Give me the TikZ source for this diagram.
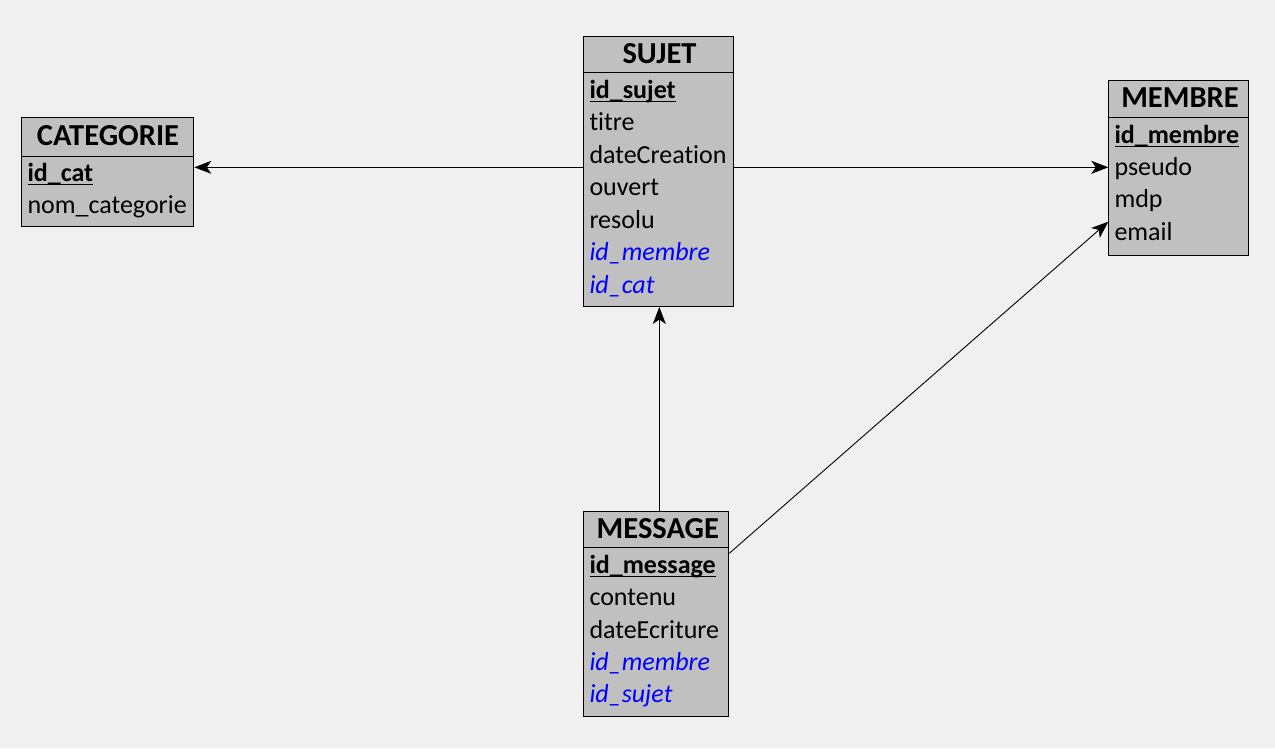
\documentclass[tikz,border=0pt]{standalone}
\usepackage{fontspec}
\setmainfont[Ligatures=NoCommon]{Carlito}
\usetikzlibrary{arrows.meta}
\definecolor{bg}{HTML}{F0F0F0}
\definecolor{boxfill}{HTML}{C0C0C0}
\definecolor{fkblue}{HTML}{0000FF}
\newcommand\pkul[1]{\setbox0\hbox{#1}\rlap{\rule[-3.6pt]{\wd0}{1.3pt}}\box0}
\begin{document}
\begin{tikzpicture}[x=1pt,y=-1pt,
  tabbox/.style={draw=black, fill=boxfill, line width=1pt, inner sep=0pt, anchor=north west},
  headtext/.style={inner sep=0pt, anchor=base, font=\fontsize{30.5}{36}\selectfont\bfseries},
  rowtext/.style={inner sep=0pt, anchor=base west, font=\fontsize{26}{32}\selectfont},
  pkrow/.style={rowtext, font=\fontsize{26}{32}\selectfont\bfseries},
  fkrow/.style={rowtext, text=fkblue, font=\fontsize{26}{32}\selectfont\itshape},
  conn/.style={draw=black, line width=0.9pt, -{Stealth[length=17pt,width=13pt,inset=4.5pt]}}]
\useasboundingbox (0,0) rectangle (1275,748);
\fill[bg] (0,0) rectangle (1275,748);

% SUJET
\node[tabbox, minimum width=150pt, minimum height=36.6pt] (sujeth) at (583.3,35.7) {};
\node[tabbox, minimum width=150pt, minimum height=233.7pt] (sujetb) at (583.3,72.3) {};
\node[headtext] (sujett) at (659.5,63.3) {SUJET};
\node[pkrow] (s1) at (589.3,98.3) {\pkul{id\_sujet}};
\node[rowtext] (s2) at (589.3,130.8) {titre};
\node[rowtext] (s3) at (589.3,163.3) {dateCreation};
\node[rowtext] (s4) at (589.3,195.8) {ouvert};
\node[rowtext] (s5) at (589.3,228.3) {resolu};
\node[fkrow] (s6) at (589.3,260.8) {id\_membre};
\node[fkrow] (s7) at (589.3,293.3) {id\_cat};

% CATEGORIE
\node[tabbox, minimum width=172.6pt, minimum height=38.4pt] (cath) at (20.7,117.3) {};
\node[tabbox, minimum width=172.6pt, minimum height=70.3pt] (catb) at (20.7,155.7) {};
\node[headtext] (catt) at (108,145.7) {CATEGORIE};
\node[pkrow] (c1) at (27.3,181.7) {\pkul{id\_cat}};
\node[rowtext] (c2) at (27.3,213.8) {nom\_categorie};

% MEMBRE
\node[tabbox, minimum width=140pt, minimum height=37.3pt] (memh) at (1108.3,80) {};
\node[tabbox, minimum width=140pt, minimum height=137.7pt] (memb) at (1108.3,117.3) {};
\node[headtext] (memt) at (1180,107.7) {MEMBRE};
\node[pkrow] (m1) at (1114.3,143.3) {\pkul{id\_membre}};
\node[rowtext] (m2) at (1114.3,175.5) {pseudo};
\node[rowtext] (m3) at (1114.3,207.8) {mdp};
\node[rowtext] (m4) at (1114.3,240.3) {email};

% MESSAGE
\node[tabbox, minimum width=145pt, minimum height=36.6pt] (msgh) at (583.3,510.7) {};
\node[tabbox, minimum width=145pt, minimum height=168.7pt] (msgb) at (583.3,547.3) {};
\node[headtext] (msgt) at (657.8,538.3) {MESSAGE};
\node[pkrow] (g1) at (589.3,573.3) {\pkul{id\_message}};
\node[rowtext] (g2) at (589.3,605.5) {contenu};
\node[rowtext] (g3) at (589.3,638) {dateEcriture};
\node[fkrow] (g4) at (589.3,670.3) {id\_membre};
\node[fkrow] (g5) at (589.3,702.5) {id\_sujet};

% connectors
\coordinate (ya) at (0,167.3);
\coordinate (yd1) at (0,553.3);
\coordinate (yd2) at (0,221.7);
\coordinate (xv) at (659.3,0);
\draw[conn] (sujetb.west |- ya) -- (catb.east |- ya);
\draw[conn] (sujetb.east |- ya) -- (memb.west |- ya);
\draw[conn] (msgh.north -| xv) -- (sujetb.south -| xv);
\draw[conn] (msgb.east |- yd1) -- (memb.west |- yd2);
\end{tikzpicture}
\end{document}
